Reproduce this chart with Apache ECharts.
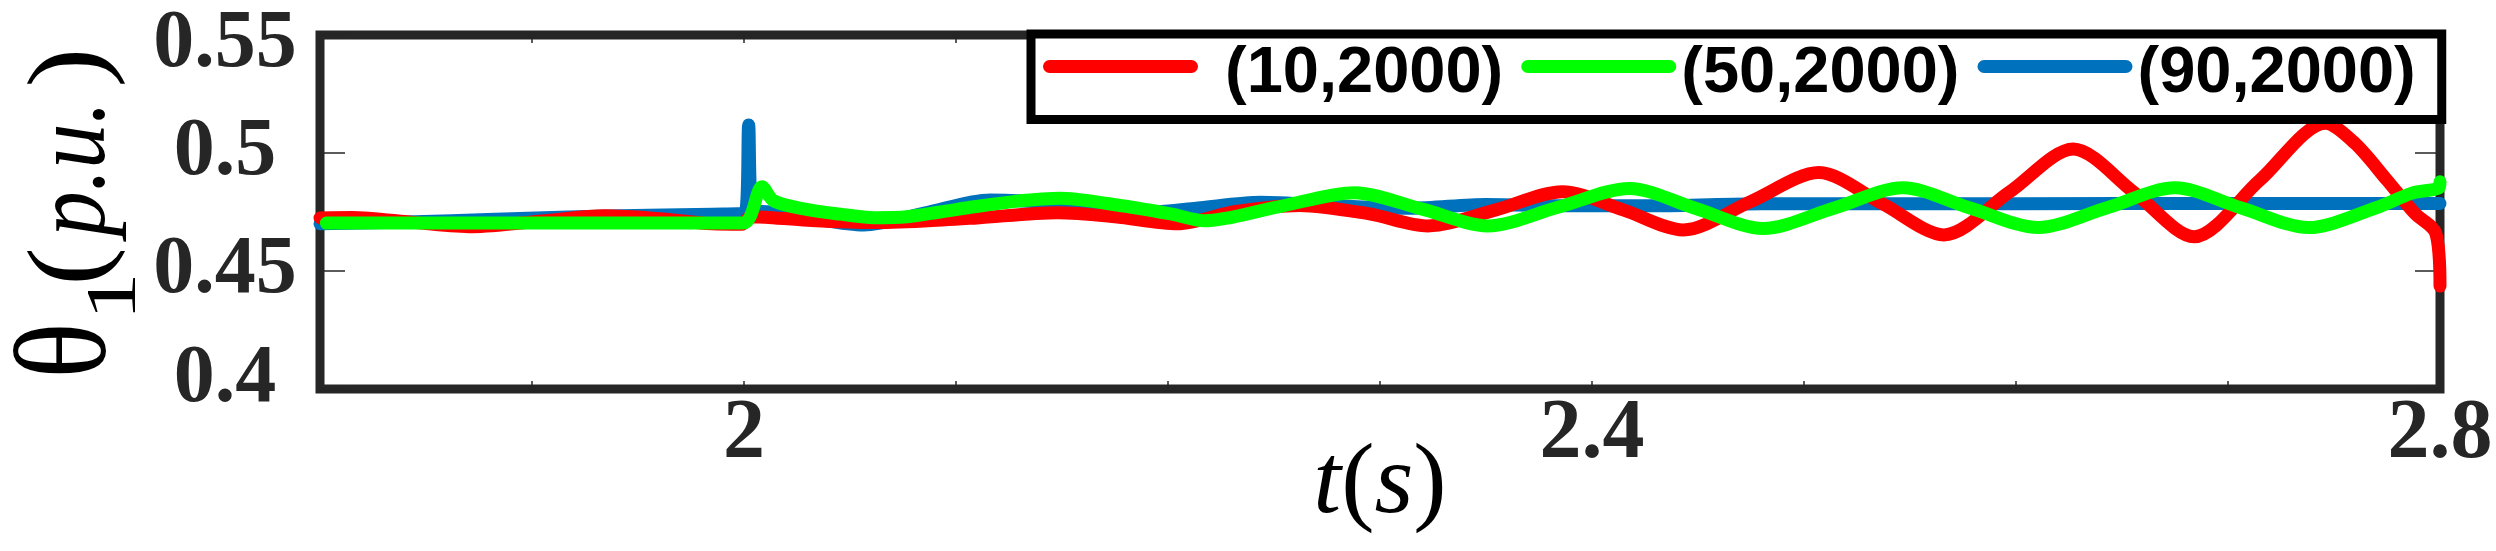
<!DOCTYPE html>
<html><head><meta charset="utf-8">
<script src="https://cdn.jsdelivr.net/npm/echarts@6/dist/echarts.min.js"></script>
<style>html,body{margin:0;padding:0;background:#fff}#c{width:2496px;height:551px}</style>
</head><body><div id="c"></div><script>
const seriesNames = ['(10,2000)', '(50,2000)', '(90,2000)'];
const seriesColors = ['#FF0000', '#00FF00', '#0072BD'];
const xTickLabels = ['2', '2.4', '2.8'];
const yTickLabels = ['0.4', '0.45', '0.5', '0.55'];
const yTitleParts = ['θ', '1', '(', 'p.u.', ')'];

const tRed = [1.800, 1.815, 1.845, 1.872, 1.905, 1.934, 1.960, 1.985, 1.999, 2.003, 2.010, 2.030, 2.060, 2.085, 2.110, 2.148, 2.175, 2.2045, 2.232, 2.262, 2.295, 2.3225, 2.355, 2.386, 2.415, 2.443, 2.475, 2.507, 2.537, 2.566, 2.597, 2.627, 2.656, 2.684, 2.715, 2.746, 2.760, 2.775, 2.788, 2.798, 2.800];
const vRed = [0.4725, 0.4727, 0.4705, 0.4688, 0.4712, 0.4734, 0.4722, 0.4700, 0.4698, 0.4730, 0.4728, 0.4715, 0.4705, 0.4712, 0.4725, 0.4747, 0.4730, 0.4700, 0.4752, 0.4778, 0.4742, 0.4691, 0.4760, 0.4836, 0.4758, 0.4674, 0.4795, 0.4917, 0.4785, 0.4653, 0.4835, 0.5017, 0.4831, 0.4645, 0.4885, 0.5126, 0.5040, 0.4885, 0.4745, 0.4660, 0.4436];

const tGreen = [1.803, 1.900, 1.9995, 2.0085, 2.014, 2.030, 2.0455, 2.0613, 2.077, 2.0925, 2.1085, 2.128, 2.149, 2.1714, 2.2013, 2.2171, 2.252, 2.2879, 2.320, 2.3508, 2.384, 2.4177, 2.449, 2.4807, 2.514, 2.5466, 2.578, 2.6105, 2.643, 2.675, 2.706, 2.738, 2.770, 2.7868, 2.7995, 2.800];
const vGreen = [0.4703, 0.4703, 0.4703, 0.4857, 0.4797, 0.4760, 0.4741, 0.4726, 0.4730, 0.4750, 0.4772, 0.4795, 0.4808, 0.4786, 0.4742, 0.4713, 0.4772, 0.4832, 0.4762, 0.4691, 0.4770, 0.4850, 0.4765, 0.4680, 0.4766, 0.4853, 0.4768, 0.4684, 0.4768, 0.4853, 0.4768, 0.4684, 0.4768, 0.4830, 0.4852, 0.4878];

const tBlue = [1.800, 1.845, 1.879, 1.917, 1.955, 1.985, 2.0005, 2.0022, 2.0040, 2.012, 2.030, 2.0565, 2.085, 2.116, 2.150, 2.185, 2.2124, 2.2438, 2.280, 2.3145, 2.350, 2.390, 2.430, 2.480, 2.600, 2.700, 2.800];
const vBlue = [0.4700, 0.4709, 0.4718, 0.4729, 0.4736, 0.4741, 0.4745, 0.5119, 0.4758, 0.4750, 0.4725, 0.4695, 0.4745, 0.4801, 0.4785, 0.4746, 0.4765, 0.4791, 0.4776, 0.4766, 0.4782, 0.4776, 0.4776, 0.4785, 0.4785, 0.4786, 0.4786];

const pairs = (t, v) => t.map((x, i) => [x, v[i]]);
const serif = 'Liberation Serif';
const sans = 'Liberation Sans';
const frame = '#262626';

function mkLine(name, color, data) {
  return {
    name: name, type: 'line', data: data, showSymbol: false, symbol: 'none',
    smooth: 0.3, clip: false, silent: true,
    lineStyle: { color: color, width: 13, cap: 'round', join: 'round' },
    itemStyle: { color: color }
  };
}

// fit a glyph run into an ink box (local coords of a rotated group)
const mc = document.createElement('canvas').getContext('2d');
function fitText(str, fontStyle, box) {
  const ref = 100;
  mc.font = fontStyle + ' ' + ref + 'px "' + serif + '"';
  mc.textBaseline = 'middle';
  mc.textAlign = 'left';
  const m = mc.measureText(str);
  const h = (m.actualBoundingBoxAscent + m.actualBoundingBoxDescent) || ref * 0.7;
  const w = (m.actualBoundingBoxLeft + m.actualBoundingBoxRight) || ref * 0.5;
  const fs = ref * (box.b - box.t) / h;
  const k = fs / ref;
  const sx = Math.max(0.5, Math.min(1.5, (box.r - box.l) / (w * k)));
  return {
    type: 'text', x: box.l + m.actualBoundingBoxLeft * k * sx, y: box.b - m.actualBoundingBoxDescent * k,
    scaleX: sx, silent: true,
    style: { text: str, font: fontStyle + ' ' + fs.toFixed(1) + 'px "' + serif + '"', fill: '#000', align: 'left', verticalAlign: 'middle' }
  };
}
const Y0 = 380;
const yTitle = {
  type: 'group', x: 0, y: Y0, rotation: Math.PI / 2,
  children: [
    fitText(yTitleParts[0], 'normal', { l: 6, r: 53, t: 13, b: 106 }),
    fitText(yTitleParts[1], 'normal', { l: 67, r: 102, t: 88, b: 135 }),
    fitText(yTitleParts[2], 'normal', { l: 99, r: 130, t: 27, b: 126 }),
    fitText(yTitleParts[3], 'italic', { l: 138, r: 271, t: 54, b: 126 }),
    fitText(yTitleParts[4], 'normal', { l: 296, r: 327, t: 27, b: 126 })
  ]
};

const capsule = 'path://M6.5 0H148.5A6.5 6.5 0 0 1 148.5 13H6.5A6.5 6.5 0 0 1 6.5 0Z';

const chart = echarts.init(document.getElementById('c'), null, { renderer: 'canvas' });
chart.setOption({
  animation: false,
  backgroundColor: '#fff',
  grid: { left: 320, right: 56, top: 35, bottom: 162, containLabel: false, outerBoundsMode: 'none',
    show: true, borderWidth: 9, borderColor: frame, backgroundColor: 'transparent' },
  graphic: [yTitle],
  legend: {
    data: seriesNames, left: 1031, top: 34, orient: 'horizontal',
    padding: [0, 26, 13, 12], itemGap: 18, itemWidth: 155, itemHeight: 13,
    icon: capsule, selectedMode: false,
    backgroundColor: '#fff', borderColor: '#000', borderWidth: 9, borderRadius: 0,
    itemStyle: { borderWidth: 0 },
    textStyle: { fontFamily: sans, fontWeight: 'bold', fontSize: 65, color: '#000', lineHeight: 50, padding: [15, 0, 0, 0],
      rich: { f: { fontFamily: sans, fontWeight: 'bold', fontSize: 65, color: '#000', lineHeight: 50, padding: [0, 0, 0, 22] } } },
    formatter: function (n) { return n === seriesNames[0] ? '{f|' + n + '}' : n; }
  },
  xAxis: [{
    type: 'value', position: 'bottom', min: 1.8, max: 2.8, interval: 0.1,
    axisLine: { show: false }, splitLine: { show: false },
    axisTick: { show: true, inside: true, length: 8, lineStyle: { color: frame, width: 1.5 } },
    axisLabel: { show: true, margin: 4, fontFamily: serif, fontWeight: 'bold', fontSize: 84, lineHeight: 84, color: frame,
      showMinLabel: true, showMaxLabel: true, hideOverlap: false,
      formatter: function (v) { const s = String(Math.round(v * 10) / 10); return xTickLabels.indexOf(s) >= 0 ? s : ''; } },
    name: '{i|t}{p|(}{i|s}{p|)}', nameLocation: 'middle', nameGap: 47, nameMoveOverlap: false,
    nameTextStyle: { color: '#000', rich: {
      i: { fontFamily: serif, fontStyle: 'italic', fontSize: 100, lineHeight: 100, color: '#000' },
      p: { fontFamily: serif, fontSize: 100, lineHeight: 100, color: '#000' } } }
  }, {
    type: 'value', position: 'top', min: 1.8, max: 2.8, interval: 0.1,
    axisLine: { show: false }, splitLine: { show: false },
    axisTick: { show: true, inside: true, length: 8, lineStyle: { color: frame, width: 1.5 } },
    axisLabel: { show: false }
  }],
  yAxis: [{
    type: 'value', position: 'left', min: 0.4, max: 0.55, interval: 0.05,
    axisLine: { show: false }, splitLine: { show: false },
    axisTick: { show: true, inside: true, length: 25, lineStyle: { color: frame, width: 1.5 } },
    axisLabel: { show: true, margin: 95, align: 'center', fontFamily: serif, fontWeight: 'bold', fontSize: 82, lineHeight: 82, color: frame,
      formatter: function (v) {
        const s = String(Math.round(v * 100) / 100);
        if (yTickLabels.indexOf(s) < 0) return '';
        if (s === yTickLabels[3]) return '{up|' + s + '}';
        if (s === yTickLabels[0]) return '{dn|' + s + '}';
        return s;
      },
      rich: {
        up: { fontFamily: serif, fontWeight: 'bold', fontSize: 82, lineHeight: 82, color: frame, padding: [20, 0, 0, 0] },
        dn: { fontFamily: serif, fontWeight: 'bold', fontSize: 82, lineHeight: 82, color: frame, padding: [0, 0, 18, 0] }
      } }
  }, {
    type: 'value', position: 'right', min: 0.4, max: 0.55, interval: 0.05,
    axisLine: { show: false }, splitLine: { show: false },
    axisTick: { show: true, inside: true, length: 25, lineStyle: { color: frame, width: 1.5 } },
    axisLabel: { show: false }
  }],
  series: [
    mkLine(seriesNames[2], seriesColors[2], pairs(tBlue, vBlue)),
    mkLine(seriesNames[0], seriesColors[0], pairs(tRed, vRed)),
    mkLine(seriesNames[1], seriesColors[1], pairs(tGreen, vGreen))
  ]
});
</script></body></html>
